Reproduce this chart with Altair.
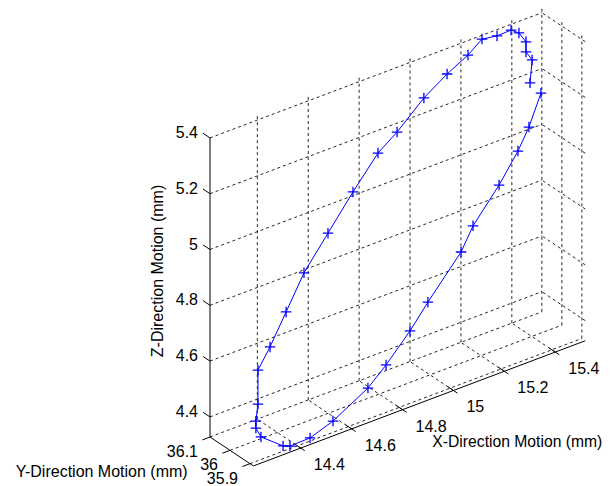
import altair as alt
import pandas as pd

# ---------------- data (mm) ----------------
x_lim = [14.214, 15.518]
y_lim = [35.883, 36.1]
z_lim = [4.328, 5.425]
z_axis_top = 5.4

x_ticks = [14.4, 14.6, 14.8, 15.0, 15.2, 15.4]
x_tick_labels = ["14.4", "14.6", "14.8", "15", "15.2", "15.4"]
y_ticks = [36.1, 36.0, 35.9]
y_tick_labels = ["36.1", "36", "35.9"]
z_ticks = [4.4, 4.6, 4.8, 5.0, 5.2, 5.4]
z_tick_labels = ["4.4", "4.6", "4.8", "5", "5.2", "5.4"]

curve_x = [15.483, 15.428, 15.369, 15.287, 15.169, 15.114, 14.968, 14.882, 14.780, 14.701,
           14.548, 14.450, 14.371, 14.344, 14.257, 14.245, 14.245, 14.261, 14.269, 14.332,
           14.403, 14.489, 14.599, 14.713, 14.819, 14.902, 15.023, 15.122, 15.212, 15.275,
           15.334, 15.389, 15.420, 15.440, 15.440, 15.464, 15.448]
curve_y = [36.06, 36.05, 36.03, 36.02, 36.00, 35.99, 35.97, 35.95, 35.94, 35.93,
           35.91, 35.90, 35.90, 35.90, 35.90, 35.91, 35.91, 35.92, 35.93, 35.95,
           35.96, 35.98, 36.00, 36.02, 36.03, 36.04, 36.06, 36.07, 36.08, 36.09,
           36.09, 36.09, 36.09, 36.08, 36.08, 36.08, 36.07]
curve_z = [5.143, 5.045, 4.989, 4.900, 4.804, 4.734, 4.614, 4.550, 4.468, 4.417,
           4.361, 4.339, 4.337, 4.347, 4.409, 4.440, 4.465, 4.516, 4.630, 4.682,
           4.778, 4.879, 4.974, 5.073, 5.171, 5.213, 5.284, 5.331, 5.363, 5.394,
           5.385, 5.387, 5.366, 5.332, 5.296, 5.259, 5.187]

x_title = "X-Direction Motion (mm)"
y_title = "Y-Direction Motion (mm)"
z_title = "Z-Direction Motion (mm)"

# ---------------- view (3-D -> 2-D projection) ----------------
ORIGIN = (210.0, 437.0)          # screen point of corner (xmin, ymax, zmin)
UX = (254.5, -96.0)              # screen shift per mm of X
UY = (-200.0, -133.3)            # screen shift per mm of Y
UZ = (0.0, -279.0)               # screen shift per mm of Z
X0, Y0, Z0 = x_lim[0], y_lim[1], z_lim[0]

FONT = "Liberation Sans"
FS = 16
BLUE = "#0000ff"


def proj(xf, yf, zf, k, off=0.0):
    return (f"{ORIGIN[k]} + (datum.{xf} - {X0})*{UX[k]} + (datum.{yf} - {Y0})*{UY[k]}"
            f" + (datum.{zf} - {Z0})*{UZ[k]} + {off}")


W, H = 596, 478
XS = alt.Scale(domain=[8, 8 + W], nice=False, zero=False)
YS = alt.Scale(domain=[8, 8 + H], nice=False, zero=False, reverse=True)

xmin, xmax = x_lim
ymin, ymax = y_lim
zmin, zmax = z_lim

# ---------------- segments ----------------
grid = []
for xt in x_ticks:
    grid.append((xt, ymax, zmin, xt, ymax, zmax))      # back wall verticals
    grid.append((xt, ymin, zmin, xt, ymax, zmin))      # floor lines along Y
for zt in z_ticks:
    grid.append((xmin, ymax, zt, xmax, ymax, zt))      # back wall horizontals
    grid.append((xmax, ymin, zt, xmax, ymax, zt))      # side wall horizontals
for yt in y_ticks:
    grid.append((xmax, yt, zmin, xmax, yt, zmax))      # side wall verticals
    grid.append((xmin, yt, zmin, xmax, yt, zmin))      # floor lines along X

axes = [
    (xmin, ymax, zmin, xmin, ymax, z_axis_top),
    (xmin, ymax, zmin, xmin, ymin, zmin),
    (xmin, ymin, zmin, xmax, ymin, zmin),
]
for xt in x_ticks:
    axes.append((xt, ymin - 0.02, zmin, xt, ymin + 0.03, zmin))
for yt in y_ticks:
    axes.append((xmin - 0.03, yt, zmin, xmin, yt, zmin))
for zt in z_ticks:
    axes.append((xmin, ymax, zt, xmin, ymax + 0.035, zt))

cols = ["X1", "Y1", "Z1", "X2", "Y2", "Z2"]
grid_df = pd.DataFrame(grid, columns=cols)
axes_df = pd.DataFrame(axes, columns=cols)


def seg_chart(df, **mark):
    return alt.Chart(df).transform_calculate(
        sx1=proj("X1", "Y1", "Z1", 0), sy1=proj("X1", "Y1", "Z1", 1),
        sx2=proj("X2", "Y2", "Z2", 0), sy2=proj("X2", "Y2", "Z2", 1),
    ).mark_rule(**mark).encode(
        x=alt.X("sx1:Q", scale=XS, axis=None),
        y=alt.Y("sy1:Q", scale=YS, axis=None),
        x2="sx2:Q", y2="sy2:Q",
    )


grid_layer = seg_chart(grid_df, color="#000000", strokeWidth=1, strokeDash=[3, 3],
                       opacity=0.85)
axes_layer = seg_chart(axes_df, color="#000000", strokeWidth=1)

# ---------------- curve ----------------
curve_df = pd.DataFrame({"X": curve_x, "Y": curve_y, "Z": curve_z,
                         "i": list(range(len(curve_x)))})
curve_base = alt.Chart(curve_df).transform_calculate(
    sx=proj("X", "Y", "Z", 0), sy=proj("X", "Y", "Z", 1)
)
curve_line = curve_base.mark_line(color=BLUE, strokeWidth=1).encode(
    x=alt.X("sx:Q", scale=XS, axis=None),
    y=alt.Y("sy:Q", scale=YS, axis=None),
    order="i:Q",
)
curve_pts = curve_base.mark_point(
    shape="M-1,0L1,0M0,-1L0,1", filled=False, color=BLUE, strokeWidth=1.3, size=110,
    opacity=1,
).encode(
    x=alt.X("sx:Q", scale=XS, axis=None),
    y=alt.Y("sy:Q", scale=YS, axis=None),
)

# ---------------- tick labels ----------------
def label_chart(df, align, dx, dy, fs=FS):
    return alt.Chart(df).transform_calculate(
        sx=proj("X", "Y", "Z", 0), sy=proj("X", "Y", "Z", 1)
    ).mark_text(align=align, baseline="middle", dx=dx, dy=dy, font=FONT,
                fontSize=fs, color="#000000").encode(
        x=alt.X("sx:Q", scale=XS, axis=None),
        y=alt.Y("sy:Q", scale=YS, axis=None),
        text="t:N",
    )


xl_df = pd.DataFrame({"X": x_ticks, "Y": [ymin] * len(x_ticks), "Z": [zmin] * len(x_ticks),
                      "t": x_tick_labels})
yl_df = pd.DataFrame({"X": [xmin] * len(y_ticks), "Y": y_ticks, "Z": [zmin] * len(y_ticks),
                      "t": y_tick_labels})
zl_df = pd.DataFrame({"X": [xmin] * len(z_ticks), "Y": [ymax] * len(z_ticks), "Z": z_ticks,
                      "t": z_tick_labels})

x_labels = label_chart(xl_df, "left", 13, 17)
y_labels = label_chart(yl_df, "right", -12, 15)
z_labels = label_chart(zl_df, "right", -12, -5)

# ---------------- axis titles ----------------
xt_df = pd.DataFrame({"X": [(xmin + xmax) / 2], "Y": [ymin], "Z": [zmin], "t": [x_title]})
yt_df = pd.DataFrame({"X": [xmin], "Y": [(ymin + ymax) / 2], "Z": [zmin], "t": [y_title]})
zt_df = pd.DataFrame({"X": [xmin], "Y": [ymax], "Z": [(zmin + z_axis_top) / 2], "t": [z_title]})

x_tt = label_chart(xt_df, "center", 98, 39, 15.7)
y_tt = label_chart(yt_df, "center", -130, 20.5)
z_tt = alt.Chart(zt_df).transform_calculate(
    sx=proj("X", "Y", "Z", 0, -52.5), sy=proj("X", "Y", "Z", 1, -16.5)
).mark_text(align="center", baseline="middle", font=FONT, fontSize=FS,
            color="#000000", angle=270).encode(
    x=alt.X("sx:Q", scale=XS, axis=None),
    y=alt.Y("sy:Q", scale=YS, axis=None),
    text="t:N",
)

chart = alt.layer(
    grid_layer, axes_layer, curve_line, curve_pts,
    x_labels, y_labels, z_labels, x_tt, y_tt, z_tt,
).properties(
    width=W, height=H, padding=0, autosize=alt.AutoSizeParams(type="none"),
    background="white",
).configure_view(stroke=None)

chart.save("out.html", embed_options={"renderer": "svg", "actions": False})
